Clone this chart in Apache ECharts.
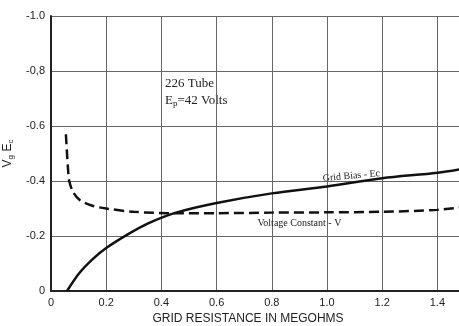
<!DOCTYPE html>
<html>
<head>
<meta charset="utf-8">
<script src="https://cdn.jsdelivr.net/npm/echarts@6/dist/echarts.min.js"></script>
<style>
  html, body { margin: 0; padding: 0; background: #fff; }
  #chart { width: 459px; height: 326px; }
</style>
</head>
<body>
<div id="chart"></div>
<script>
// grid bias curve (Ec)
const biasX = [0.058, 0.1, 0.15, 0.2, 0.275, 0.35, 0.45, 0.6, 0.8, 1.0, 1.2, 1.4, 1.5];
const biasY = [0, -0.062, -0.115, -0.156, -0.204, -0.245, -0.284, -0.32, -0.355, -0.38, -0.41, -0.43, -0.446];
// voltage constant curve (V)
const voltX = [0.054, 0.058, 0.062, 0.066, 0.08, 0.105, 0.15, 0.2, 0.3, 0.45, 0.6, 0.8, 1.0, 1.2, 1.4, 1.5];
const voltY = [-0.57, -0.5, -0.44, -0.4, -0.36, -0.33, -0.31, -0.3, -0.288, -0.283, -0.283, -0.285, -0.286, -0.288, -0.295, -0.306];
const xTickLabels = ['0', '0.2', '0.4', '0.6', '0.8', '1.0', '1.2', '1.4'];
const yTickLabels = ['0', '-0.2', '-0.4', '-0.6', '-0,8', '-1.0'];

const chart = echarts.init(document.getElementById('chart'));

const sans = 'Liberation Sans';
const serif = 'Liberation Serif';

const pairs = (xs, ys) => xs.map((x, i) => [x, ys[i]]);

const option = {
    animation: false,
    grid: { left: 51, top: 16, right: -6, bottom: 35, outerBoundsMode: 'none', containLabel: false },
    xAxis: {
        type: 'value',
        min: 0,
        max: 1.5,
        interval: 0.2,
        name: 'GRID RESISTANCE IN MEGOHMS',
        nameLocation: 'middle',
        nameGap: 22,
        nameTextStyle: { fontFamily: sans, fontSize: 12, color: '#222', padding: [0, 20, 0, 0] },
        axisLine: { lineStyle: { color: '#222', width: 2 } },
        axisTick: { show: false },
        axisLabel: {
            fontFamily: sans, fontSize: 11, color: '#222', margin: 6,
            showMaxLabel: false,
            formatter: v => xTickLabels[Math.round(v / 0.2)] || ''
        },
        splitLine: { lineStyle: { color: '#666', width: 1 } }
    },
    yAxis: {
        type: 'value',
        inverse: true,
        min: -1,
        max: 0,
        interval: 0.2,
        name: '{v|V}{s|g} {v|E}{s|c}',
        nameLocation: 'middle',
        nameGap: 31,
        nameRotate: 90,
        nameTextStyle: {
            color: '#222',
            rich: {
                v: { fontFamily: sans, fontSize: 12, color: '#222' },
                s: { fontFamily: sans, fontSize: 8, color: '#222', verticalAlign: 'bottom', padding: [6, 0, 0, 0] }
            }
        },
        axisLine: { show: true, lineStyle: { color: '#222', width: 2 } },
        axisTick: { show: false },
        axisLabel: {
            fontFamily: sans, fontSize: 11, color: '#222', margin: 6,
            formatter: v => yTickLabels[Math.round(-v / 0.2)]
        },
        splitLine: { lineStyle: { color: '#666', width: 1 } }
    },
    series: [
        {
            name: 'Grid Bias - Ec',
            type: 'line',
            data: pairs(biasX, biasY),
            smooth: 0.3,
            showSymbol: false,
            lineStyle: { color: '#111', width: 2.5 },
            markPoint: {
                symbolSize: 0,
                data: [{ coord: [1.09, -0.4], value: 'Grid Bias - Ec' }],
                label: {
                    show: true, position: 'inside', rotate: 5,
                    fontFamily: serif, fontSize: 10, color: '#222',
                    formatter: 'Grid Bias - Ec', offset: [0, -5]
                }
            }
        },
        {
            name: 'Voltage Constant - V',
            type: 'line',
            data: pairs(voltX, voltY),
            smooth: 0.3,
            showSymbol: false,
            lineStyle: { color: '#111', width: 2.5, type: [10, 5] },
            markPoint: {
                symbolSize: 0,
                data: [{ coord: [0.9, -0.247], value: 'Voltage Constant - V' }],
                label: {
                    show: true, position: 'inside',
                    fontFamily: serif, fontSize: 10, color: '#222',
                    formatter: 'Voltage Constant - V'
                }
            }
        }
    ],
    graphic: [
        {
            type: 'text', left: 165, top: 77,
            style: { text: '226 Tube', font: '13px "Liberation Serif"', fill: '#222' }
        },
        {
            type: 'text', left: 165, top: 94,
            style: {
                text: '{a|E}{b|p}{a|=42 Volts}',
                rich: {
                    a: { font: '13px "Liberation Serif"', fill: '#222' },
                    b: { font: '9px "Liberation Serif"', fill: '#222', padding: [6, 0, 0, 0] }
                }
            }
        }
    ]
};

chart.setOption(option);
</script>
</body>
</html>
